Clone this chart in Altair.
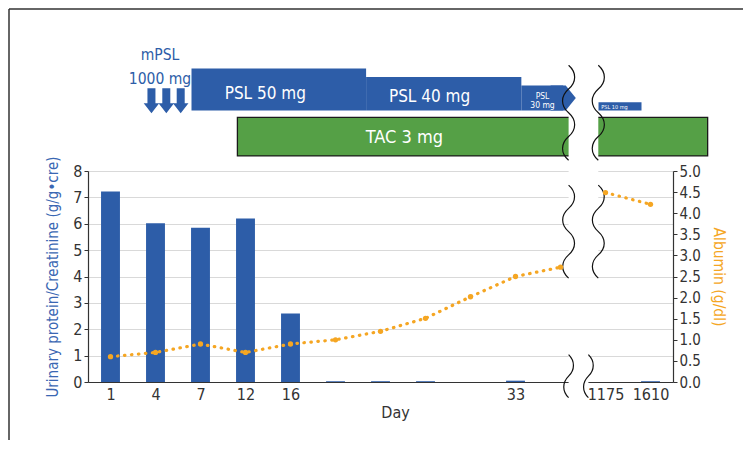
import altair as alt
import pandas as pd

FONT = "DejaVu Sans Condensed, Liberation Sans Narrow, Roboto, sans-serif"
BLUE = "#2D5DA8"
TITLE_BLUE = "#3A67B3"
ORANGE = "#F5A623"
GREEN = "#55A046"
DARK = "#333333"
GRID = "#D9D9D9"

# ---------------- data ----------------
day_labels = ["1", "4", "7", "12", "16", "", "", "", "", "33", "", "1175", "1610"]
day_index = list(range(len(day_labels)))
upcr = [7.22, 6.02, 5.85, 6.2, 2.6, 0.03, 0.03, 0.03, None, 0.05, None, None, 0.03]
albumin = [0.6, 0.70, 0.9, 0.70, 0.9, 1.0, 1.2, 1.51, 2.02, 2.5, 2.72, 4.49, 4.21]
albumin_segment = [0] * 11 + [1, 1]
upcr_ticks = [0, 1, 2, 3, 4, 5, 6, 7, 8]
albumin_ticks = [0.0, 0.5, 1.0, 1.5, 2.0, 2.5, 3.0, 3.5, 4.0, 4.5, 5.0]

psl_labels = ["PSL 50 mg", "PSL 40 mg", "PSL 30 mg", "PSL 10 mg"]
psl_start = [1.80, 5.68, 9.13, 10.84]
psl_end = [5.68, 9.13, 10.06, 11.80]
psl_dose = [50, 40, 30, 10]

tac_label = ["TAC 3 mg"]
tac_start = [2.82]
tac_end = [13.27]

mpsl_pulses = [0.91, 1.24, 1.56]

# axis-break positions (in x index units)
break_left = 10.18
break_right = 10.84
break_right_low = 10.62

# ---------------- helpers ----------------
xscale = alt.Scale(domain=[-0.5, 12.5], nice=False, zero=False)
yl_scale = alt.Scale(domain=[0, 8], nice=False)
lane = alt.Scale(domain=[-60, 90], nice=False, zero=False)
label_expr = "[" + ",".join("'%s'" % s for s in day_labels) + "][datum.value]"
YL_TITLE = "Urinary protein/Creatinine (g/g\u2022cre)"

X_AXIS = alt.Axis(values=day_index, labelExpr=label_expr, ticks=False, grid=False,
                  domainColor=DARK, domainWidth=1.2, labelFontSize=16, labelColor=DARK,
                  labelPadding=4, titleFontSize=16, titleColor=DARK, titleFontWeight="normal",
                  titleX=307, titlePadding=2, zindex=0, labelFlush=False, labelOverlap=False)
YL_AXIS = alt.Axis(values=upcr_ticks, grid=True, gridColor=GRID, gridWidth=1,
                   domainColor=DARK, domainWidth=1.2, tickColor=DARK, tickSize=4,
                   labelFontSize=16, labelColor=DARK, labelPadding=2, labelOverlap=False,
                   titleFontSize=15, titleColor=TITLE_BLUE, titleFontWeight="normal",
                   titlePadding=12, zindex=0)

SQUIG_LONG = ("M0,-1 C0.17,-0.85 0.17,-0.65 0,-0.5 C-0.17,-0.35 -0.17,-0.15 0,0 "
              "C0.17,0.15 0.17,0.35 0,0.5 C-0.17,0.65 -0.17,0.85 0,1")
SQUIG_SHORT = "M0,-1 C0.3,-0.7 0.3,-0.3 0,0 C-0.3,0.3 -0.3,0.7 0,1"
ARROW = "M-0.32,-1 L0.32,-1 L0.32,0.2 L0.62,0.2 L0,1 L-0.62,0.2 L-0.32,0.2 Z"
TIP = "M-1,-1 L0.2,-1 L1,0 L0.2,1 L-1,1 Z"

df = pd.DataFrame({
    "idx": day_index,
    "label": day_labels,
    "upcr": upcr,
    "alb": albumin,
    "seg": albumin_segment,
})


def xq(field):
    return alt.X(field, scale=xscale, title="Day", axis=X_AXIS)


def ylq(field):
    return alt.Y(field, scale=yl_scale, title=YL_TITLE, axis=YL_AXIS)


# ---------------- bottom panel ----------------
bars = alt.Chart(df).transform_filter("isValid(datum.upcr)").transform_calculate(
    x0="datum.idx - 0.21", x1="datum.idx + 0.21", base="0"
).mark_bar(color=BLUE).encode(
    x=xq("x0:Q"), x2="x1:Q", y=ylq("upcr:Q"), y2="base:Q",
)

mask_df = pd.DataFrame({
    "x0": [break_left, break_left],
    "x1": [break_right, break_right_low],
    "y0": [3.95, -0.7],
    "y1": [8.05, 1.05],
})
masks = alt.Chart(mask_df).mark_rect(color="white").encode(
    x=xq("x0:Q"), x2="x1:Q", y=ylq("y0:Q"), y2="y1:Q",
)

sq_long_df = pd.DataFrame({"x": [break_left, break_right], "y": [5.7, 5.7]})
sq_short_df = pd.DataFrame({"x": [break_left, break_right_low], "y": [0.22, 0.22]})
sq_long = alt.Chart(sq_long_df).mark_point(
    shape=SQUIG_LONG, size=8649, filled=False, stroke="#111111", strokeWidth=1.2, opacity=1
).encode(x=xq("x:Q"), y=ylq("y:Q"))
sq_short = alt.Chart(sq_short_df).mark_point(
    shape=SQUIG_SHORT, size=1849, filled=False, stroke="#111111", strokeWidth=1.2, opacity=1
).encode(x=xq("x:Q"), y=ylq("y:Q"))

left_layer = alt.layer(bars, masks, sq_long, sq_short)

alb_y = alt.Y("alb:Q", scale=alt.Scale(domain=[0, 5], nice=False), title="Albumin (g/dl)",
              axis=alt.Axis(orient="right", values=albumin_ticks, format=".1f",
                            grid=False, domainColor=DARK, domainWidth=1.2, tickColor=DARK,
                            tickSize=4, labelFontSize=15, labelColor=DARK, labelPadding=2,
                            labelOverlap=False,
                            titleFontSize=15.5, titleColor=ORANGE, titleFontWeight="normal",
                            titlePadding=10, zindex=0))
alb_line = alt.Chart(df).mark_line(
    color=ORANGE, strokeDash=[0.5, 6.5], strokeWidth=3.2, strokeCap="round"
).encode(x=xq("idx:Q"), y=alb_y, detail="seg:N")
alb_pts = alt.Chart(df).mark_point(
    filled=True, size=28, color=ORANGE, opacity=1
).encode(x=xq("idx:Q"), y=alb_y)

right_layer = alt.layer(alb_line, alb_pts)

bottom = alt.layer(left_layer, right_layer).resolve_scale(y="independent").properties(
    width=585, height=211
)

# ---------------- top panel (treatment) ----------------
psl_df = pd.DataFrame({"label": psl_labels, "start": psl_start, "end": psl_end, "dose": psl_dose})
tac_df = pd.DataFrame({"label": tac_label, "start": tac_start, "end": tac_end})

tac_rect = alt.Chart(tac_df).transform_calculate(y0="-54", y1="-8").mark_rect(
    color=GREEN, stroke="#1a1a1a", strokeWidth=1.3
).encode(x=alt.X("start:Q", scale=xscale, axis=None), x2="end:Q",
         y=alt.Y("y0:Q", scale=lane, axis=None), y2="y1:Q")

psl_rect = alt.Chart(psl_df).transform_calculate(base="0").mark_rect(color=BLUE).encode(
    x=alt.X("start:Q", scale=xscale, axis=None), x2="end:Q",
    y=alt.Y("base:Q", scale=lane, axis=None), y2="dose:Q")

top_mask_df = pd.DataFrame({"x0": [break_left], "x1": [break_right], "y0": [-60], "y1": [90]})
top_mask = alt.Chart(top_mask_df).mark_rect(color="white").encode(
    x=alt.X("x0:Q", scale=xscale, axis=None), x2="x1:Q",
    y=alt.Y("y0:Q", scale=lane, axis=None), y2="y1:Q")

tip = alt.Chart(psl_df.iloc[[2]]).transform_calculate(ym="datum.dose / 2").mark_point(
    shape=TIP, size=635, filled=True, color=BLUE, opacity=1, strokeWidth=0
).encode(x=alt.X("end:Q", scale=xscale, axis=None), y=alt.Y("ym:Q", scale=lane, axis=None))

top_sq_df = pd.DataFrame({"x": [break_left, break_right], "y": [-2.6, -2.6]})
top_sq = alt.Chart(top_sq_df).mark_point(
    shape=SQUIG_LONG, size=9025, filled=False, stroke="#111111", strokeWidth=1.2, opacity=1
).encode(x=alt.X("x:Q", scale=xscale, axis=None), y=alt.Y("y:Q", scale=lane, axis=None))

arrow_df = pd.DataFrame({"x": mpsl_pulses, "y": [11.7] * len(mpsl_pulses)})
arrows = alt.Chart(arrow_df).mark_point(
    shape=ARROW, size=625, filled=True, color=BLUE, opacity=1, strokeWidth=0
).encode(x=alt.X("x:Q", scale=xscale, axis=None), y=alt.Y("y:Q", scale=lane, axis=None))


def txt(texts, xs, ys, size, color):
    d = pd.DataFrame({"t": texts, "x": xs, "y": ys})
    return alt.Chart(d).mark_text(font=FONT, fontSize=size, color=color, align="center",
                                  baseline="alphabetic").encode(
        x=alt.X("x:Q", scale=xscale, axis=None), y=alt.Y("y:Q", scale=lane, axis=None),
        text="t:N")


t_mpsl = txt(["mPSL", "1000 mg"], [1.10, 1.10], [59.9, 32.2], 15.5, BLUE)
t_psl_big = txt(["PSL 50 mg", "PSL 40 mg"], [3.44, 7.09], [13.8, 9.8], 17, "white")
t_psl30 = txt(["PSL", "30 mg"], [9.60, 9.60], [14.3, 3.2], 8.5, "white")
t_psl10 = txt(["PSL 10 mg"], [11.2], [2.4], 5.5, "white")
t_tac = txt(tac_label, [6.53], [-38.5], 18, "white")

# decorative frame lines (figure border)
frame_top = alt.Chart(pd.DataFrame({"a": [0]})).mark_rule(color=DARK, strokeWidth=1.5).encode(
    x=alt.value(-79), x2=alt.value(655), y=alt.value(-26))
frame_left = alt.Chart(pd.DataFrame({"a": [0]})).mark_rule(color=DARK, strokeWidth=1.5).encode(
    x=alt.value(-79), y=alt.value(-26), y2=alt.value(405))

top = alt.layer(
    tac_rect, psl_rect, top_mask, tip, top_sq, arrows,
    t_mpsl, t_psl_big, t_psl30, t_psl10, t_tac, frame_top, frame_left
).properties(width=585, height=126)

chart = alt.vconcat(top, bottom, spacing=10, bounds="flush").properties(
    padding={"left": 0, "top": 0, "right": 0, "bottom": 0}
).configure(font=FONT).configure_view(stroke=None)

chart.save("out.html", embed_options={"renderer": "svg", "actions": False})
